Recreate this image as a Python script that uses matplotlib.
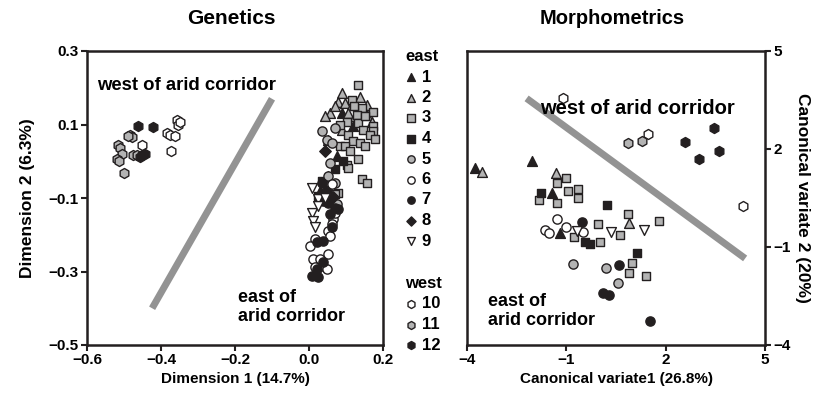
import numpy as np
import matplotlib
matplotlib.use('Agg')
import matplotlib.pyplot as plt

plt.rcParams['font.family'] = ['Liberation Sans', 'DejaVu Sans']
plt.rcParams['font.weight'] = 'bold'

# ---- Genetics (left panel) values: [x, y] per population ----
gen_1 = np.array([[0.088, 0.131], [0.120, 0.095], [0.075, 0.014], [0.030, -0.081], [0.051, -0.041]])
gen_2 = np.array([[0.088, 0.185], [0.079, 0.162], [0.097, 0.158], [0.115, 0.153], [0.156, 0.153],
                  [0.057, 0.131], [0.043, 0.122], [0.106, 0.131], [0.124, 0.122], [0.156, 0.126],
                  [0.088, 0.086], [0.052, 0.059], [0.138, 0.176], [0.070, 0.149], [0.170, 0.108]])
gen_3 = np.array([[0.133, 0.207], [0.115, 0.167], [0.142, 0.144], [0.174, 0.135], [0.129, 0.126],
                  [0.102, 0.108], [0.133, 0.104], [0.174, 0.095], [0.174, 0.081], [0.147, 0.086],
                  [0.165, 0.072], [0.178, 0.061], [0.106, 0.072], [0.120, 0.054], [0.138, 0.049],
                  [0.084, 0.041], [0.097, 0.041], [0.111, 0.027], [0.133, 0.005], [0.102, -0.009],
                  [0.151, 0.041], [0.142, -0.049], [0.106, -0.018], [0.079, -0.086], [0.070, -0.090],
                  [0.156, -0.059], [0.151, 0.122], [0.084, 0.100], [0.122, 0.149]])
gen_4 = np.array([[0.070, -0.022], [0.034, -0.054], [0.052, -0.095], [0.092, 0.000], [0.024, -0.095]])
gen_5 = np.array([[0.070, 0.090], [0.048, 0.059], [0.061, 0.049], [0.057, -0.005], [0.052, -0.041],
                  [0.070, -0.059], [0.052, -0.068], [0.075, -0.117], [0.035, 0.081]])
gen_6 = np.array([[0.061, -0.063], [0.066, -0.158], [0.061, -0.171], [0.052, -0.189], [0.057, -0.203],
                  [0.016, -0.212], [0.012, -0.266], [0.030, -0.266], [0.052, -0.252], [0.039, -0.284],
                  [0.016, -0.288], [0.048, -0.293], [0.003, -0.230], [0.070, -0.141]])
gen_7 = np.array([[0.034, -0.059], [0.039, -0.108], [0.052, -0.113], [0.070, -0.126], [0.079, -0.131],
                  [0.057, -0.144], [0.061, -0.180], [0.021, -0.221], [0.039, -0.216], [0.007, -0.311],
                  [0.025, -0.315], [0.021, -0.293], [0.039, -0.275]])
gen_8 = np.array([[0.046, -0.081], [0.065, -0.097], [0.043, 0.027]])
gen_9 = np.array([[0.007, -0.072], [0.025, -0.104], [0.007, -0.140], [0.012, -0.162], [0.016, -0.180],
                  [0.025, -0.122], [0.043, -0.099]])
gen_10 = np.array([[-0.358, 0.113], [-0.353, 0.099], [-0.385, 0.076], [-0.376, 0.072], [-0.362, 0.068],
                   [-0.452, 0.045], [-0.374, 0.029], [-0.350, 0.106]])
gen_11 = np.array([[-0.484, 0.072], [-0.479, 0.065], [-0.515, 0.045], [-0.511, 0.036], [-0.506, 0.021],
                   [-0.518, 0.007], [-0.513, 0.000], [-0.500, -0.032], [-0.475, 0.016], [-0.464, 0.018],
                   [-0.488, 0.068]])
gen_12 = np.array([[-0.463, 0.095], [-0.421, 0.093], [-0.452, 0.018], [-0.443, 0.020], [-0.457, 0.011]])

# ---- Morphometrics (right panel) values ----
mor_1 = np.array([[-2.045, 1.642], [-3.758, 1.41], [-1.441, 0.644], [-1.19, -0.58]])
mor_2 = np.array([[-3.556, 1.287], [-1.32, 1.257], [0.903, -0.274]])
mor_3 = np.array([[-1.29, 0.95], [-1.009, 1.104], [-0.958, 0.724], [-0.637, 0.767], [-0.637, 0.491],
                  [-1.272, 0.338], [-1.825, 0.439], [-0.051, -0.295], [0.018, -0.837], [-0.767, -0.684],
                  [0.622, -0.632], [0.873, 0.011], [0.976, -1.498], [0.903, -1.805], [1.81, -0.204],
                  [1.398, -1.878]])
mor_4 = np.array([[-1.773, 0.663], [0.22, 0.286], [-0.435, -0.837], [-0.284, -0.917], [1.127, -1.192]])
mor_5 = np.array([[-0.788, -1.52], [0.2, -1.652], [0.571, -2.092]])
mor_6 = np.array([[-1.272, -0.152], [-1.644, -0.479], [-1.514, -0.562], [-1.009, -0.397], [-0.486, -0.531]])
mor_7 = np.array([[-0.535, -0.225], [0.601, -1.55], [0.1, -2.398], [0.299, -2.469], [1.529, -3.264]])
mor_8 = np.empty((0, 2))
mor_9 = np.array([[-0.686, -0.5], [0.35, -0.531], [1.356, -0.479]])
mor_10 = np.array([[1.477, 2.459], [4.348, 0.256], [-1.1, 3.56]])
mor_11 = np.array([[0.873, 2.175], [1.278, 2.255]])
mor_12 = np.array([[3.471, 2.634], [2.586, 2.224], [3.613, 1.939], [3.018, 1.685]])

# corridor lines (data units)
gen_line_x = [-0.424, -0.10]
gen_line_y = [-0.40, 0.17]
mor_line_x = [-2.2, 4.4]
mor_line_y = [3.55, -1.35]

gen_xticks = [-0.6, -0.4, -0.2, 0.0, 0.2]
gen_xlabels = ['\u22120.6', '\u22120.4', '\u22120.2', '0.0', '0.2']
gen_yticks = [-0.5, -0.3, -0.1, 0.1, 0.3]
gen_ylabels = ['\u22120.5', '\u22120.3', '\u22120.1', '0.1', '0.3']
mor_ticks = [-4, -1, 2, 5]
mor_labels = ['\u22124', '\u22121', '2', '5']

pop_labels = ['1', '2', '3', '4', '5', '6', '7', '8', '9', '10', '11', '12']

DARK = '#231f20'
GRAY = '#b3b3b3'
LINEGRAY = '#939393'
styles = [('^', DARK), ('^', GRAY), ('s', GRAY), ('s', DARK), ('o', GRAY), ('o', 'white'),
          ('o', DARK), ('D', DARK), ('v', 'white'), ('h', 'white'), ('h', GRAY), ('h', DARK)]
sizes = [50, 50, 40, 40, 44, 44, 44, 34, 50, 52, 52, 52]

gen_groups = [gen_1, gen_2, gen_3, gen_4, gen_5, gen_6, gen_7, gen_8, gen_9, gen_10, gen_11, gen_12]
mor_groups = [mor_1, mor_2, mor_3, mor_4, mor_5, mor_6, mor_7, mor_8, mor_9, mor_10, mor_11, mor_12]

fig = plt.figure(figsize=(8.24, 4.03), dpi=100)
ax1 = fig.add_axes([87/824, 58/403, 296/824, 294/403])
ax2 = fig.add_axes([467/824, 58/403, 298/824, 294/403])

handles = []
for i in range(12):
    m, c = styles[i]
    h = ax1.scatter(gen_groups[i][:, 0], gen_groups[i][:, 1], marker=m, s=sizes[i], c=c,
                    edgecolors=DARK, linewidths=1.0, zorder=3)
    handles.append(h)
    if len(mor_groups[i]):
        ax2.scatter(mor_groups[i][:, 0], mor_groups[i][:, 1], marker=m, s=sizes[i], c=c,
                    edgecolors=DARK, linewidths=1.0, zorder=3)

ax1.plot(gen_line_x, gen_line_y, color=LINEGRAY, lw=5, solid_capstyle='butt', zorder=2)
ax2.plot(mor_line_x, mor_line_y, color=LINEGRAY, lw=5, solid_capstyle='butt', zorder=2)

tfs = 11
ax1.set_xlim(-0.6, 0.2)
ax1.set_ylim(-0.5, 0.3)
ax1.set_xticks(gen_xticks)
ax1.set_xticklabels(gen_xlabels)
ax1.set_yticks(gen_yticks)
ax1.set_yticklabels(gen_ylabels)
ax1.set_xlabel('Dimension 1 (14.7%)', fontsize=tfs, fontweight='bold', labelpad=3)
ax1.set_ylabel('Dimension 2 (6.3%)', fontsize=12.5, fontweight='bold', labelpad=10)

ax2.set_xlim(-4, 5)
ax2.set_ylim(-4, 5)
ax2.set_xticks(mor_ticks)
ax2.set_xticklabels(mor_labels)
ax2.set_yticks(mor_ticks)
ax2.set_yticklabels(mor_labels)
ax2.yaxis.tick_right()
ax2.yaxis.set_label_position('right')
ax2.set_xlabel('Canonical variate1 (26.8%)', fontsize=tfs, fontweight='bold', labelpad=3)
ax2.set_ylabel('Canonical variate 2 (20%)', fontsize=12.5, fontweight='bold', rotation=270,
               labelpad=14)

for ax in (ax1, ax2):
    for s in ax.spines.values():
        s.set_linewidth(1.8)
        s.set_color(DARK)
    ax.tick_params(direction='out', length=4, width=1.5, labelsize=tfs, color=DARK, pad=2)
    for lab in ax.get_xticklabels() + ax.get_yticklabels():
        lab.set_fontweight('bold')

ax1.text(-0.573, 0.205, 'west of arid corridor', fontsize=13.3, fontweight='bold', va='center', ha='left')
ax1.text(-0.192, -0.397, 'east of\narid corridor', fontsize=13, fontweight='bold', va='center', ha='left',
         linespacing=1.1)
ax2.text(-1.795, 3.255, 'west of arid corridor', fontsize=14.5, fontweight='bold', va='center', ha='left')
ax2.text(-3.366, -2.958, 'east of\narid corridor', fontsize=13, fontweight='bold', va='center', ha='left',
         linespacing=1.1)

fig.text(231/824, 1 - 18/403, 'Genetics', fontsize=15, fontweight='bold', ha='center', va='center')
fig.text(612/824, 1 - 18/403, 'Morphometrics', fontsize=14.5, fontweight='bold', ha='center', va='center')

leg_kw = dict(frameon=False, scatterpoints=1, handlelength=0.7, handletextpad=0.3,
              borderpad=0, borderaxespad=0, labelspacing=0.33, alignment='left', markerscale=0.8,
              prop={'weight': 'bold', 'size': 12},
              title_fontproperties={'weight': 'bold', 'size': 12})
leg1 = fig.legend(handles[:9], pop_labels[:9], title='east', loc='upper left',
                  bbox_to_anchor=(405/824, 1 - 49/403), **leg_kw)
leg2 = fig.legend(handles[9:], pop_labels[9:], title='west', loc='upper left',
                  bbox_to_anchor=(405/824, 1 - 276/403), **leg_kw)

fig.savefig('out.png', dpi=100)
